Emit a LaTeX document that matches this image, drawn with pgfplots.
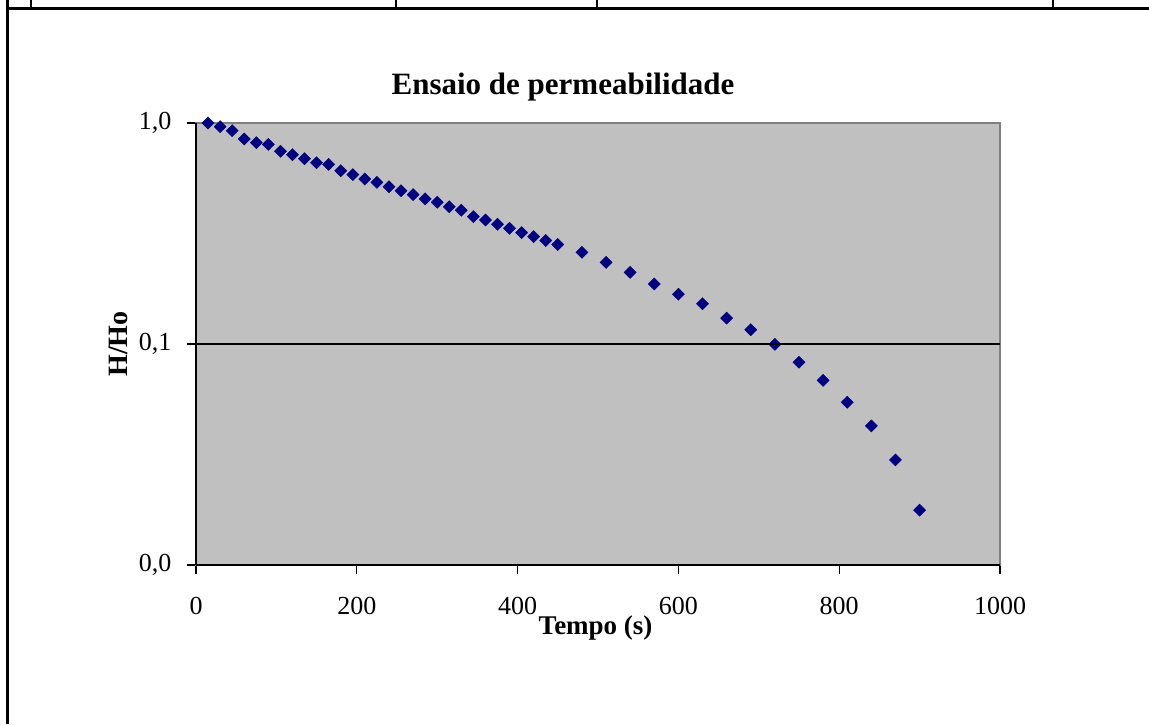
\documentclass[border=0pt]{standalone}
\usepackage{fontspec}
\setmainfont{Liberation Serif}
\usepackage{pgfplots}
\pgfplotsset{compat=1.18}
\definecolor{plotgray}{HTML}{C0C0C0}
\definecolor{framegray}{HTML}{808080}
\definecolor{navy}{HTML}{000080}
\begin{document}
\begin{tikzpicture}
\useasboundingbox (0,0) rectangle (1149pt,724pt);
\fill[white] (0,0) rectangle (1149pt,724pt);
% table border lines of the source page
\draw[line width=3pt] (7pt,0pt) -- (7pt,724pt);
\draw[line width=3pt] (5.5pt,715pt) -- (1149pt,715pt);
\foreach \xx in {31,396,597,1053} {\draw[line width=1.5pt] (\xx pt,715pt) -- (\xx pt,724pt);}
\begin{axis}[
  at={(196pt,159pt)}, anchor=south west,
  scale only axis, width=804pt, height=442pt,
  xmin=0, xmax=1000, ymode=log, ymin=0.01, ymax=1,
  xtick={0,200,...,1000},
  ytick={0.01,0.1,1}, yticklabels={{0,0},{0,1},{1,0}},
  yminorticks=false, xminorticks=false,
  tick align=outside, major tick length=9pt,
  every tick/.style={black, line width=1.2pt},
  major tick style={black, line width=1.2pt},
  xtick pos=bottom, ytick pos=left,
  axis background/.style={fill=plotgray},
  axis line style={draw=framegray, line width=1.2pt},
  /pgf/number format/assume math mode=true,
  /pgf/number format/1000 sep={},
  xticklabel style={font=\fontsize{26}{29}\selectfont, yshift=-20pt},
  yticklabel style={font=\fontsize{26}{29}\selectfont, xshift=-12pt},
  title={Ensaio de permeabilidade},
  title style={font=\bfseries\fontsize{31}{34}\selectfont, at={(0.4565,1.068)}, anchor=center},
  xlabel={Tempo (s)},
  xlabel style={font=\bfseries\fontsize{27}{30}\selectfont, at={(0.497,-0.143)}, anchor=center},
  ylabel={H/Ho},
  ylabel style={font=\bfseries\fontsize{28}{31}\selectfont, at={(-0.097,0.5)}, anchor=center},
  clip=false,
  after end axis/.code={
    \draw[black, line width=1.2pt] (axis cs:0,0.1) -- (axis cs:1000,0.1);
    \draw[black, line width=1.5pt] (axis cs:0,0.01) -- (axis cs:0,1);
    \draw[black, line width=1.5pt] (axis cs:0,0.01) -- (axis cs:1000,0.01);
  },
]
\addplot[only marks, mark=square*, mark size=4.3pt, mark options={rotate=45, fill=navy, draw=navy}, color=navy] coordinates {
(15,1.00) (30,0.962) (45,0.923) (60,0.846) (75,0.815) (90,0.801)
(105,0.745) (120,0.719) (135,0.689) (150,0.661) (165,0.650) (180,0.608)
(195,0.584) (210,0.558) (225,0.539) (240,0.515) (255,0.494) (270,0.474)
(285,0.454) (300,0.438) (315,0.418) (330,0.403) (345,0.377) (360,0.364)
(375,0.348) (390,0.334) (405,0.319) (420,0.306) (435,0.294) (450,0.282)
(480,0.260) (510,0.234) (540,0.211) (570,0.187) (600,0.168) (630,0.152)
(660,0.131) (690,0.116) (720,0.0997) (750,0.0826) (780,0.0685) (810,0.0545)
(840,0.0426) (870,0.0299) (900,0.0177)
};
\end{axis}
\end{tikzpicture}
\end{document}
